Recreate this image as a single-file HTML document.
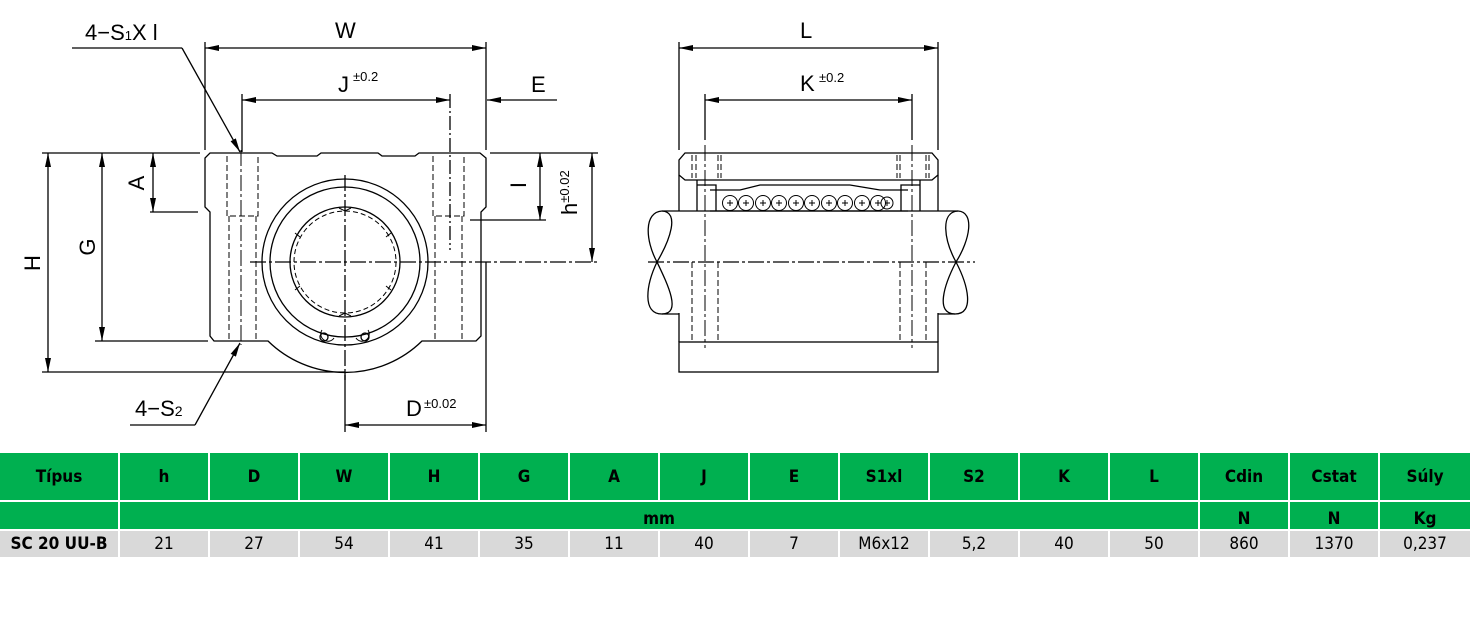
<!DOCTYPE html>
<html><head><meta charset="utf-8"><style>
body{margin:0;background:#fff;width:1472px;height:628px;position:relative;overflow:hidden;font-family:"Liberation Sans",sans-serif}
.c{position:absolute;display:flex;align-items:center;justify-content:center;font-family:"DejaVu Sans Condensed","Liberation Sans",sans-serif;font-size:17px;color:#000}
.g{background:#00b050;font-weight:bold}
.r{background:#d9d9d9}
svg{position:absolute;left:0;top:0}
</style></head><body>
<svg width="1472" height="450" viewBox="0 0 1472 450" fill="none" stroke="#000" stroke-width="1.3">
<defs><marker id="a" markerWidth="14" markerHeight="6" refX="14" refY="3" orient="auto-start-reverse" markerUnits="userSpaceOnUse"><path d="M0,0 L14,3 L0,6z" fill="#000" stroke="none"/></marker></defs>
<g font-family="Liberation Sans,sans-serif" fill="#000" stroke="none" font-size="22">
<text x="85" y="40">4−S<tspan font-size="13">1</tspan>X l</text>
<text x="335" y="38">W</text>
<text x="338" y="92">J</text><text x="353" y="81" font-size="13">±0.2</text>
<text x="531" y="92">E</text>
<text x="135" y="416">4−S<tspan font-size="14">2</tspan></text>
<text x="406" y="416">D</text><text x="424" y="408" font-size="13">±0.02</text>
<text x="800" y="38">L</text>
<text x="800" y="91">K</text><text x="819" y="82" font-size="13">±0.2</text>
<text transform="translate(144,183) rotate(-90)" text-anchor="middle">A</text>
<text transform="translate(95,247) rotate(-90)" text-anchor="middle">G</text>
<text transform="translate(40,263) rotate(-90)" text-anchor="middle">H</text>
<text transform="translate(526,185) rotate(-90)" text-anchor="middle">I</text>
<text transform="translate(577,215) rotate(-90)">h<tspan font-size="13" dy="-8">±0.02</tspan></text>
</g>
<line x1="205" y1="48" x2="486" y2="48" marker-start="url(#a)" marker-end="url(#a)"/>
<line x1="205" y1="42" x2="205" y2="150"/><line x1="486" y1="42" x2="486" y2="150"/>
<line x1="242" y1="100" x2="450" y2="100" marker-start="url(#a)" marker-end="url(#a)"/>
<line x1="242" y1="94" x2="242" y2="152"/><line x1="450" y1="94" x2="450" y2="250" stroke-dasharray="14,3,2,3"/>
<line x1="557" y1="100" x2="487" y2="100" marker-end="url(#a)"/>
<line x1="72" y1="48" x2="182" y2="48"/><line x1="182" y1="48" x2="240" y2="152" marker-end="url(#a)"/>
<line x1="130" y1="425" x2="195" y2="425"/><line x1="195" y1="425" x2="240" y2="343" marker-end="url(#a)"/>
<line x1="153" y1="153" x2="153" y2="212" marker-start="url(#a)" marker-end="url(#a)"/>
<line x1="102" y1="153" x2="102" y2="341" marker-start="url(#a)" marker-end="url(#a)"/>
<line x1="48" y1="153" x2="48" y2="372" marker-start="url(#a)" marker-end="url(#a)"/>
<line x1="42" y1="153" x2="200" y2="153"/>
<line x1="150" y1="212" x2="198" y2="212"/>
<line x1="95" y1="341" x2="208" y2="341"/>
<line x1="42" y1="372" x2="345" y2="372"/>
<line x1="540" y1="153" x2="540" y2="220" marker-start="url(#a)" marker-end="url(#a)"/>
<line x1="592" y1="153" x2="592" y2="262" marker-start="url(#a)" marker-end="url(#a)"/>
<line x1="490" y1="153" x2="598" y2="153"/>
<line x1="470" y1="220" x2="546" y2="220"/>
<line x1="250" y1="262" x2="598" y2="262" stroke-dasharray="16,3,3,3"/>
<line x1="345" y1="425" x2="486" y2="425" marker-start="url(#a)" marker-end="url(#a)"/>
<line x1="345" y1="372" x2="345" y2="432"/><line x1="486" y1="262" x2="486" y2="432"/>
<path d="M210,153 L272,153 L277,156 L317,156 L321,153 L378,153 L382,156 L415,156 L419,153 L480,153 L486,158 L486,207 L481,212 L481,336 L476,341 L422,341 A110,110 0 0 1 268,341 L214,341 L210,336 L210,212 L205,207 L205,158 Z"/>
<circle cx="345" cy="262" r="83"/>
<circle cx="345" cy="262" r="75"/>
<circle cx="345" cy="262" r="55"/>
<circle cx="345" cy="262" r="51" stroke-dasharray="5,3" stroke-width="1"/>
<path d="M322,330 a6,6 0 1 0 12,8 M368,330 a6,6 0 1 1 -12,8" stroke-width="1"/>
<circle cx="324" cy="337" r="4"/><circle cx="365" cy="337" r="4"/>
<g stroke-width="1"><path d="M339,208 l6,3 6,-3 M339,316 l6,-3 6,3 M295,233 l5,4 M391,233 l-5,4 M295,290 l5,-4 M391,290 l-5,-4"/></g>
<line x1="345" y1="175" x2="345" y2="380" stroke-dasharray="16,3,3,3"/>
<g stroke-dasharray="6,3" stroke-width="1">
<path d="M227,156 V216 H258 V156"/><path d="M229,216 V341 M256,216 V341"/>
<path d="M433,156 V216 H464 V156"/><path d="M435,216 V341 M462,216 V341"/>
</g>
<line x1="241" y1="150" x2="241" y2="345" stroke-dasharray="16,3,3,3" stroke-width="1"/>
<line x1="679" y1="48" x2="938" y2="48" marker-start="url(#a)" marker-end="url(#a)"/>
<line x1="679" y1="42" x2="679" y2="150"/><line x1="938" y1="42" x2="938" y2="150"/>
<line x1="705" y1="100" x2="912" y2="100" marker-start="url(#a)" marker-end="url(#a)"/>
<line x1="705" y1="94" x2="705" y2="140"/><line x1="912" y1="94" x2="912" y2="140"/>
<path d="M685,153 L932,153 L938,160 L938,175 L932,180 L685,180 L679,175 L679,160 Z"/>
<line x1="679" y1="175" x2="679" y2="211"/><line x1="938" y1="175" x2="938" y2="211"/>
<rect x="679" y="342" width="259" height="30"/>
<line x1="679" y1="313" x2="679" y2="342"/><line x1="938" y1="313" x2="938" y2="342"/>
<path d="M662,211 L958,211 M662,314 L679,314 M938,314 L955,314"/>
<path d="M662,211 C644,212 645,240 657,262 C668,285 682,314 662,314"/>
<path d="M662,211 C680,212 670,240 657,262 C646,285 642,314 662,314"/>
<path d="M958,211 C975,212 970,240 956,262 C944,285 935,314 955,314"/>
<path d="M958,211 C940,212 944,240 956,262 C968,285 975,314 955,314"/>
<line x1="648" y1="262" x2="975" y2="262" stroke-dasharray="16,3,3,3"/>
<path d="M697,185 H716 V211 M920,185 H901 V211 M697,180 V211 M920,180 V211"/>
<path d="M710,190 L740,190 L760,185 L850,185 L880,190 L908,190 M710,211 H908"/>
<g stroke-width="1">
<circle cx="730" cy="203" r="7.5"/><circle cx="746" cy="203" r="7.5"/><circle cx="763" cy="203" r="7.5"/><circle cx="779" cy="203" r="7.5"/><circle cx="796" cy="203" r="7.5"/><circle cx="812" cy="203" r="7.5"/><circle cx="829" cy="203" r="7.5"/><circle cx="845" cy="203" r="7.5"/><circle cx="862" cy="203" r="7.5"/><circle cx="878" cy="203" r="7.5"/><circle cx="887" cy="203" r="6"/>
<path d="M727,203h6M730,200v6 M743,203h6M746,200v6 M760,203h6M763,200v6 M776,203h6M779,200v6 M793,203h6M796,200v6 M809,203h6M812,200v6 M826,203h6M829,200v6 M842,203h6M845,200v6 M859,203h6M862,200v6 M875,203h6M878,200v6 M885,203h5M887,200v6"/>
</g>
<g stroke-dasharray="6,3" stroke-width="1">
<path d="M692,155 V178 M696,155 V178 M718,155 V178 M721,155 V178 M897,155 V178 M900,155 V178 M926,155 V178 M929,155 V178"/>
<path d="M692,262 V342 M718,262 V342 M900,262 V342 M926,262 V342"/>
</g>
<line x1="705" y1="145" x2="705" y2="348" stroke-dasharray="16,3,3,3" stroke-width="1"/>
<line x1="912" y1="145" x2="912" y2="348" stroke-dasharray="16,3,3,3" stroke-width="1"/>
</svg>

<div class="c g" style="left:0;top:453px;width:118px;height:47px">Típus</div>
<div class="c g" style="left:120px;top:453px;width:88px;height:47px">h</div>
<div class="c g" style="left:210px;top:453px;width:88px;height:47px">D</div>
<div class="c g" style="left:300px;top:453px;width:88px;height:47px">W</div>
<div class="c g" style="left:390px;top:453px;width:88px;height:47px">H</div>
<div class="c g" style="left:480px;top:453px;width:88px;height:47px">G</div>
<div class="c g" style="left:570px;top:453px;width:88px;height:47px">A</div>
<div class="c g" style="left:660px;top:453px;width:88px;height:47px">J</div>
<div class="c g" style="left:750px;top:453px;width:88px;height:47px">E</div>
<div class="c g" style="left:840px;top:453px;width:88px;height:47px">S1xl</div>
<div class="c g" style="left:930px;top:453px;width:88px;height:47px">S2</div>
<div class="c g" style="left:1020px;top:453px;width:88px;height:47px">K</div>
<div class="c g" style="left:1110px;top:453px;width:88px;height:47px">L</div>
<div class="c g" style="left:1200px;top:453px;width:88px;height:47px">Cdin</div>
<div class="c g" style="left:1290px;top:453px;width:88px;height:47px">Cstat</div>
<div class="c g" style="left:1380px;top:453px;width:90px;height:47px">Súly</div>

<div class="c g" style="left:0;top:502px;width:118px;height:27px"></div>
<div class="c g" style="left:120px;top:502px;width:1078px;height:27px;align-items:flex-end">mm</div>
<div class="c g" style="left:1200px;top:502px;width:88px;height:27px;align-items:flex-end">N</div>
<div class="c g" style="left:1290px;top:502px;width:88px;height:27px;align-items:flex-end">N</div>
<div class="c g" style="left:1380px;top:502px;width:90px;height:27px;align-items:flex-end">Kg</div>

<div class="c r" style="left:0;top:531px;width:118px;height:26px;font-weight:bold">SC 20 UU-B</div>
<div class="c r" style="left:120px;top:531px;width:88px;height:26px">21</div>
<div class="c r" style="left:210px;top:531px;width:88px;height:26px">27</div>
<div class="c r" style="left:300px;top:531px;width:88px;height:26px">54</div>
<div class="c r" style="left:390px;top:531px;width:88px;height:26px">41</div>
<div class="c r" style="left:480px;top:531px;width:88px;height:26px">35</div>
<div class="c r" style="left:570px;top:531px;width:88px;height:26px">11</div>
<div class="c r" style="left:660px;top:531px;width:88px;height:26px">40</div>
<div class="c r" style="left:750px;top:531px;width:88px;height:26px">7</div>
<div class="c r" style="left:840px;top:531px;width:88px;height:26px">M6x12</div>
<div class="c r" style="left:930px;top:531px;width:88px;height:26px">5,2</div>
<div class="c r" style="left:1020px;top:531px;width:88px;height:26px">40</div>
<div class="c r" style="left:1110px;top:531px;width:88px;height:26px">50</div>
<div class="c r" style="left:1200px;top:531px;width:88px;height:26px">860</div>
<div class="c r" style="left:1290px;top:531px;width:88px;height:26px">1370</div>
<div class="c r" style="left:1380px;top:531px;width:90px;height:26px">0,237</div>
</body></html>
